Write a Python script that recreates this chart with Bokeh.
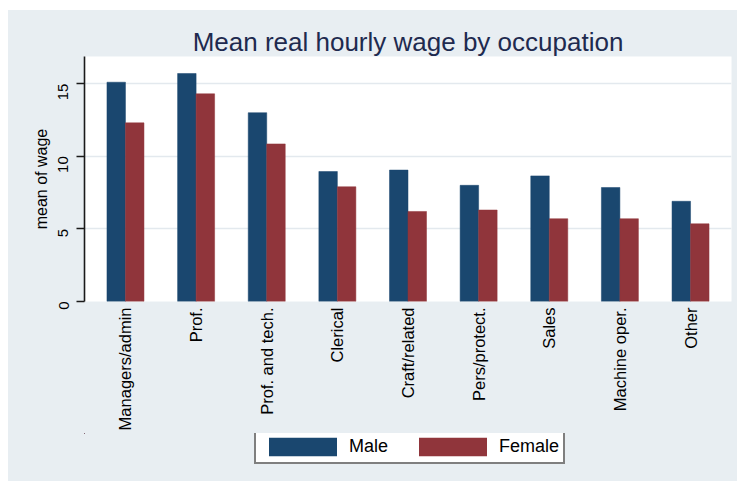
import math
from bokeh.plotting import figure
from bokeh.layouts import column
from bokeh.models import ColumnDataSource, FixedTicker, Legend, LegendItem, Range1d
from bokeh.embed import file_html
from bokeh.resources import INLINE

occupations = ["Managers/admin", "Prof.", "Prof. and tech.", "Clerical", "Craft/related",
               "Pers/protect.", "Sales", "Machine oper.", "Other"]
male_wage = [15.1, 15.7, 13.0, 8.95, 9.05, 8.0, 8.65, 7.85, 6.9]
female_wage = [12.3, 14.3, 10.85, 7.9, 6.2, 6.3, 5.7, 5.7, 5.35]
y_ticks = [0, 5, 10, 15]
series_names = ["Male", "Female"]

BLUE = "#1a476f"
RED = "#90353b"
BG = "#e8eef2"
FONT = "Liberation Sans"

pos = list(range(len(occupations)))
bar_w = 0.262
src = ColumnDataSource(dict(
    xm=[i - bar_w / 2 for i in pos],
    xf=[i + bar_w / 2 for i in pos],
    male=male_wage,
    female=female_wage,
))

p = figure(width=729, height=423, output_backend="svg", toolbar_location=None,
           x_range=Range1d(-0.58, 8.58), y_range=Range1d(0, 16.87),
           min_border_left=76, min_border_right=6, min_border_top=46, min_border_bottom=132)

p.background_fill_color = "white"
p.border_fill_color = BG
p.outline_line_color = None

p.vbar(x="xm", top="male", width=bar_w, bottom=0, source=src,
       fill_color=BLUE, line_color=BLUE, line_width=0.5)
p.vbar(x="xf", top="female", width=bar_w, bottom=0, source=src,
       fill_color=RED, line_color=RED, line_width=0.5)

# title
p.title.text = "Mean real hourly wage by occupation"
p.title.align = "center"
p.title.text_font = FONT
p.title.text_font_size = "26px"
p.title.text_font_style = "normal"
p.title.text_color = "#1e2a4f"
p.title.standoff = 0
p.title.offset = 0

# x axis
xa = p.xaxis[0]
xa.ticker = FixedTicker(ticks=pos)
xa.major_label_overrides = {i: lab for i, lab in enumerate(occupations)}
xa.major_label_orientation = math.pi / 2
xa.axis_line_color = None
xa.major_tick_line_color = None
xa.minor_tick_line_color = None
xa.major_tick_out = 0
xa.major_label_standoff = 6
xa.major_label_text_font = FONT
xa.major_label_text_font_size = "16.5px"
xa.major_label_text_color = "black"

# y axis
ya = p.yaxis[0]
ya.ticker = FixedTicker(ticks=y_ticks)
ya.major_label_orientation = math.pi / 2
ya.axis_line_color = "#1a1a1a"
ya.axis_line_width = 1.6
ya.major_tick_line_color = "#1a1a1a"
ya.major_tick_line_width = 1.4
ya.major_tick_out = 8
ya.major_tick_in = 0
ya.minor_tick_line_color = None
ya.major_label_standoff = 13
ya.major_label_text_font = FONT
ya.major_label_text_font_size = "15px"
ya.major_label_text_color = "black"
ya.axis_label = "mean of wage"
ya.axis_label_text_font = FONT
ya.axis_label_text_font_size = "16px"
ya.axis_label_text_font_style = "normal"
ya.axis_label_text_color = "black"
ya.axis_label_standoff = 1

p.xgrid.grid_line_color = None
p.ygrid.grid_line_color = "#e3e9ee"
p.ygrid.grid_line_width = 1.6

# legend strip below the chart (bars from the same data, kept out of this strip's view)
pl = figure(width=729, height=48, output_backend="svg", toolbar_location=None,
            x_range=Range1d(100, 101), y_range=Range1d(-200, -199),
            x_axis_location=None, y_axis_location=None,
            min_border_left=0, min_border_right=0, min_border_top=0, min_border_bottom=0)
pl.background_fill_alpha = 0
pl.border_fill_color = BG
pl.outline_line_color = None
pl.xgrid.visible = False
pl.ygrid.visible = False
lm = pl.vbar(x="xm", top="male", width=bar_w, bottom=0, source=src,
             fill_color=BLUE, line_color=None)
lf = pl.vbar(x="xf", top="female", width=bar_w, bottom=0, source=src,
             fill_color=RED, line_color=None)

legend = Legend(items=[LegendItem(label=series_names[0], renderers=[lm]),
                       LegendItem(label=series_names[1], renderers=[lf])],
                orientation="horizontal", location=(170, 17))
legend.label_text_font = FONT
legend.label_text_font_size = "18px"
legend.label_text_color = "black"
legend.glyph_width = 85
legend.glyph_height = 23
legend.label_standoff = 4
legend.spacing = 22
legend.padding = 4
legend.margin = 0
legend.border_line_color = "black"
legend.border_line_width = 2
legend.background_fill_color = "white"
legend.background_fill_alpha = 1.0
pl.add_layout(legend, "center")

layout = column(p, pl, spacing=0)
layout.styles = {"margin-left": "8px", "margin-top": "10px", "background-color": BG}
open("out.html", "w").write(file_html(layout, INLINE))
